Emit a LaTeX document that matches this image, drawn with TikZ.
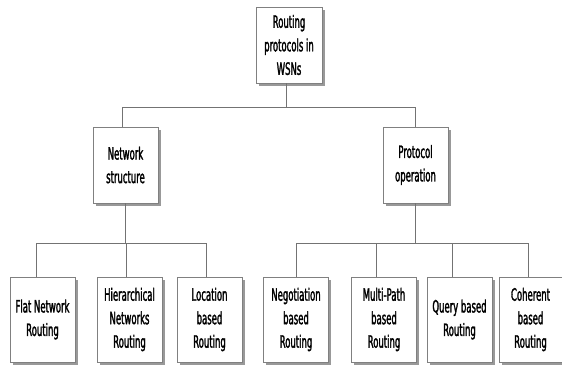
\documentclass[tikz,border=0pt]{standalone}
\usepackage{fontspec}
\setmainfont[FakeStretch=0.5,FakeBold=1.6]{DejaVu Sans}
\usetikzlibrary{shadows}
\tikzset{
  box/.style={draw=black!50, line width=0.8pt, fill=white, align=center,
    minimum width=65pt, inner sep=1pt,
    font=\fontsize{17}{23.5}\selectfont,
    drop shadow={shadow xshift=2.5pt, shadow yshift=-2.5pt, fill=black!40, opacity=1}},
  midbox/.style={box, minimum height=76pt},
  leafbox/.style={box, minimum height=85pt},
  conn/.style={draw=black!55, line width=1pt}
}
\begin{document}
\begin{tikzpicture}[x=1pt,y=-1pt]
\useasboundingbox (0,0) rectangle (562,367);
\node[midbox, minimum width=66pt] (top) at (289,45) {Routing\\protocols in\\WSNs};
\node[midbox] (ns) at (125.5,165) {Network\\structure};
\node[midbox] (po) at (415.5,165) {Protocol\\operation};
\node[leafbox] (flat) at (42.5,319.5) {Flat Network\\Routing};
\node[leafbox] (hier) at (129.5,319.5) {Hierarchical\\Networks\\Routing};
\node[leafbox] (loc) at (209.5,319.5) {Location\\based\\Routing};
\node[leafbox] (neg) at (296,319.5) {Negotiation\\based\\Routing};
\node[leafbox] (mp) at (384,319.5) {Multi-Path\\based\\Routing};
\node[leafbox] (qb) at (459.5,319.5) {Query based\\Routing};
\node[leafbox, minimum width=63pt] (coh) at (530.5,319.5) {Coherent\\based\\Routing};
% connectors
\draw[conn] ([xshift=-3pt]top.south) -- ++(0,24) coordinate (t1);
\draw[conn] (t1) -| ([xshift=-3.5pt]ns.north);
\draw[conn] (t1) -| (po.north);
\draw[conn] (ns.south) -- ++(0,40) coordinate (n1);
\draw[conn] (n1) -| ([xshift=-6.5pt]flat.north);
\draw[conn] (n1) -| ([xshift=-3.5pt]hier.north);
\draw[conn] (n1) -| ([xshift=-3.5pt]loc.north);
\draw[conn] (po.south) -- ++(0,40) coordinate (p1);
\draw[conn] (p1) -| (neg.north);
\draw[conn] (p1) -| ([xshift=-8pt]mp.north);
\draw[conn] (p1) -| ([xshift=-7.5pt]qb.north);
\draw[conn] (p1) -| ([xshift=-2.5pt]coh.north);
\end{tikzpicture}
\end{document}
